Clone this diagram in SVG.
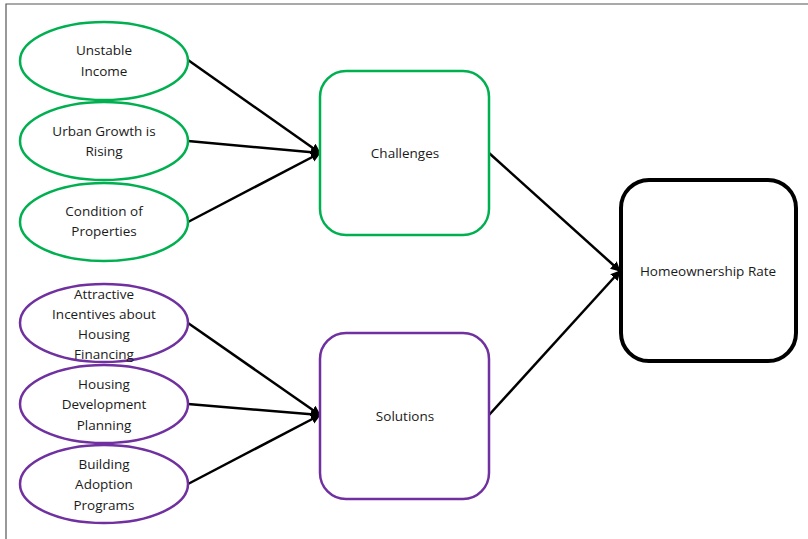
<svg xmlns="http://www.w3.org/2000/svg" width="808" height="539" viewBox="0 0 808 539">
<defs>
<style>
text{font-family:"Open Sans","Liberation Sans",sans-serif;font-size:13.5px;fill:#1a1a1a;text-anchor:middle}
.g{fill:#fff;stroke:#00B050;stroke-width:2.5}
.p{fill:#fff;stroke:#7030A0;stroke-width:2.5}
.c{stroke:#000;stroke-width:2.5;fill:none;marker-end:url(#ah)}
</style>
<marker id="ah" viewBox="0 0 10 10" refX="9" refY="5" markerWidth="4" markerHeight="4" orient="auto" markerUnits="strokeWidth">
<path d="M0,0 L10,5 L0,10 z" fill="#000"/>
</marker>
</defs>
<rect x="0" y="0" width="808" height="539" fill="#fff"/>
<path d="M6,539 V4 H808" fill="none" stroke="#555" stroke-width="1.2"/>
<g id="connectors">
<line class="c" x1="188" y1="60" x2="320" y2="153"/>
<line class="c" x1="188" y1="141" x2="320" y2="153"/>
<line class="c" x1="188" y1="222" x2="320" y2="153"/>
<line class="c" x1="188" y1="323" x2="320" y2="415"/>
<line class="c" x1="188" y1="404" x2="320" y2="415"/>
<line class="c" x1="188" y1="484" x2="320" y2="415"/>
<line class="c" x1="489" y1="153" x2="620" y2="271"/>
<line class="c" x1="489" y1="415" x2="620" y2="271"/>
</g>
<g id="unstable"><ellipse class="g" cx="104" cy="61" rx="84" ry="39"/><text x="104" y="55">Unstable</text><text x="104" y="76">Income</text></g>
<g id="urban"><ellipse class="g" cx="104" cy="141" rx="84" ry="39"/><text x="104" y="136">Urban Growth is</text><text x="104" y="156">Rising</text></g>
<g id="condition"><ellipse class="g" cx="104" cy="222" rx="84" ry="39"/><text x="104" y="216">Condition of</text><text x="104" y="236">Properties</text></g>
<g id="attractive"><ellipse class="p" cx="104" cy="323" rx="84" ry="39"/><text x="104" y="299">Attractive</text><text x="104" y="319">Incentives about</text><text x="104" y="339">Housing</text><text x="104" y="359">Financing</text></g>
<g id="housing"><ellipse class="p" cx="104" cy="404" rx="84" ry="39"/><text x="104" y="389">Housing</text><text x="104" y="409">Development</text><text x="104" y="430">Planning</text></g>
<g id="building"><ellipse class="p" cx="104" cy="484" rx="84" ry="39"/><text x="104" y="469">Building</text><text x="104" y="489">Adoption</text><text x="104" y="510">Programs</text></g>
<g id="challenges"><rect class="g" x="320" y="71" width="169" height="164" rx="26"/><text x="405" y="158">Challenges</text></g>
<g id="solutions"><rect class="p" x="320" y="333" width="169" height="166" rx="26"/><text x="405" y="421">Solutions</text></g>
<g id="homeownership"><rect x="621" y="180" width="175" height="181" rx="28" fill="#fff" stroke="#000" stroke-width="4"/><text x="708" y="276">Homeownership Rate</text></g>
</svg>
